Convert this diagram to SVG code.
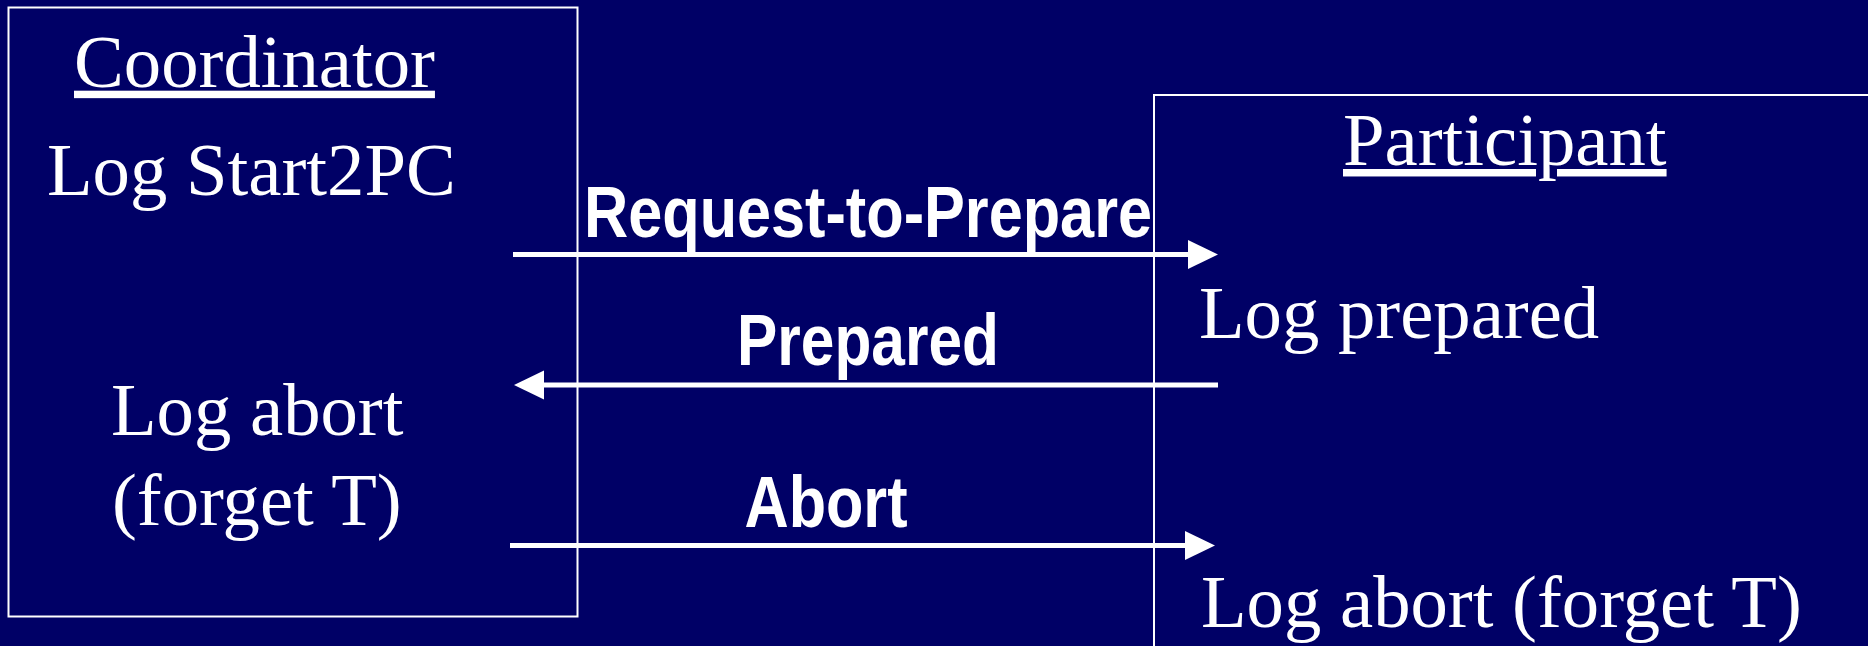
<svg xmlns="http://www.w3.org/2000/svg" width="1868" height="646" viewBox="0 0 1868 646">
  <style>
    .box { fill: none; stroke: #ffffff; stroke-width: 2; }
    .lbl { font-family: "Liberation Serif", "Times New Roman", serif; font-size: 74.7px; fill: #ffffff; }
    .msg { font-family: "Liberation Sans", Arial, sans-serif; font-size: 72px; font-weight: bold; fill: #ffffff; }
    .wire { stroke: #ffffff; stroke-width: 5; fill: none; }
  </style>
  <defs>
    <marker id="head" markerUnits="userSpaceOnUse" markerWidth="30" markerHeight="30" refX="0" refY="14.5" orient="auto">
      <path d="M0,0 L30,14.5 L0,29 Z" fill="#ffffff"/>
    </marker>
  </defs>

  <rect width="1868" height="646" fill="#000066"/>

  <!-- coordinator side -->
  <g id="coordinator">
    <rect class="box" x="8.5" y="7.5" width="569" height="609"/>
    <text class="lbl" x="74" y="86.7" text-decoration="underline">Coordinator</text>
    <text class="lbl" x="47" y="195">Log Start2PC</text>
    <text class="lbl" x="111" y="435">Log abort</text>
    <text class="lbl" x="112" y="525">(forget T)</text>
  </g>

  <!-- participant side -->
  <g id="participant">
    <rect class="box" x="1154" y="95" width="800" height="700"/>
    <text class="lbl" x="1343" y="165" text-decoration="underline">Participant</text>
    <text class="lbl" x="1199" y="338.3">Log prepared</text>
    <text class="lbl" x="1201" y="627">Log abort (forget T)</text>
  </g>

  <!-- messages exchanged -->
  <g id="connectors">
    <line class="wire" x1="513" y1="254.5" x2="1188" y2="254.5" marker-end="url(#head)"/>
    <text class="msg" x="584" y="236.7" textLength="568" lengthAdjust="spacingAndGlyphs">Request-to-Prepare</text>

    <line class="wire" x1="1218" y1="385" x2="544" y2="385" marker-end="url(#head)"/>
    <text class="msg" x="737" y="365" textLength="262" lengthAdjust="spacingAndGlyphs">Prepared</text>

    <line class="wire" x1="510" y1="545.5" x2="1185" y2="545.5" marker-end="url(#head)"/>
    <text class="msg" x="744.5" y="527" textLength="163" lengthAdjust="spacingAndGlyphs">Abort</text>
  </g>
</svg>
